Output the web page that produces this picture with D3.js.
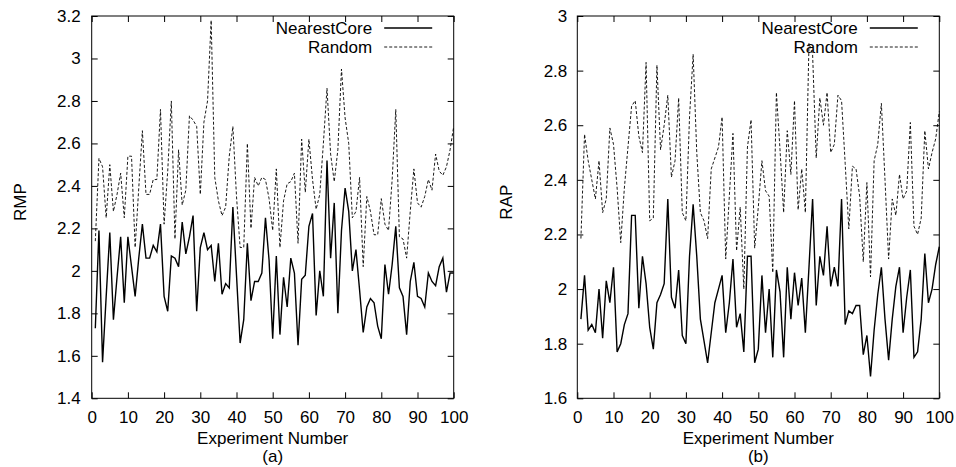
<!DOCTYPE html>
<html><head><meta charset="utf-8">
<script src="https://cdn.jsdelivr.net/npm/d3@7"></script>
<style>
html,body{margin:0;padding:0;background:#fff;}
text{font-family:"Liberation Sans",Arial,Helvetica,sans-serif;font-size:17px;fill:#000;}
</style></head>
<body>
<svg id="chart" width="956" height="467"></svg>
<script>
const experiments = d3.range(1, 101);
const seriesNames = ["NearestCore", "Random"];
const rmpNearestCore = [1.73,2.19,1.57,1.88,2.18,1.77,1.97,2.16,1.85,2.16,2.02,1.88,2.06,2.22,2.06,2.06,2.12,2.09,2.22,1.88,
1.81,2.07,2.06,2.02,2.23,2.08,2.16,2.26,1.81,2.11,2.18,2.10,2.12,1.95,2.13,1.89,1.94,1.92,2.30,1.98,
1.66,1.77,2.13,1.86,1.95,1.95,1.99,2.25,2.05,1.68,2.07,1.70,1.97,1.83,2.06,1.99,1.65,1.96,1.98,2.21,
2.27,1.79,2.00,1.88,2.52,2.06,2.32,1.80,2.19,2.39,2.28,2.00,2.10,1.91,1.71,1.83,1.87,1.85,1.74,1.68,
2.03,1.89,2.03,2.21,1.92,1.88,1.70,1.95,2.04,1.88,1.87,1.83,1.99,1.95,1.93,2.02,2.06,1.90,1.99,1.99];
const rmpRandom = [2.14,2.53,2.49,2.25,2.50,2.28,2.36,2.46,2.25,2.54,2.54,2.11,2.39,2.66,2.36,2.36,2.43,2.43,2.76,2.22,
2.47,2.80,2.15,2.57,2.31,2.38,2.73,2.71,2.68,2.36,2.70,2.80,3.18,2.44,2.33,2.26,2.30,2.54,2.68,2.35,
2.11,2.11,2.60,2.20,2.44,2.40,2.44,2.43,2.34,2.19,2.48,2.11,2.33,2.41,2.42,2.46,2.13,2.62,2.37,2.62,
2.43,2.29,2.36,2.60,2.86,2.55,2.42,2.57,2.95,2.72,2.60,2.25,2.28,2.44,2.02,2.35,2.28,2.17,2.17,2.34,
2.22,2.19,2.43,2.76,2.16,2.15,2.06,2.28,2.48,2.32,2.30,2.35,2.43,2.38,2.55,2.47,2.45,2.49,2.57,2.68];
const rapNearestCore = [1.89,2.05,1.85,1.87,1.84,2.00,1.82,2.03,1.95,2.08,1.77,1.80,1.87,1.91,2.27,2.27,1.93,2.12,2.02,1.86,
1.78,1.95,1.98,2.02,2.33,1.97,1.93,2.07,1.83,1.80,2.12,2.31,2.12,1.89,1.81,1.73,1.84,1.95,2.00,2.05,
1.84,1.95,2.11,1.86,1.91,1.77,2.12,2.12,1.73,1.78,2.05,1.84,2.00,1.75,2.07,1.99,1.75,2.08,1.89,2.06,
1.94,2.04,1.84,2.08,2.33,1.94,2.12,2.05,2.23,2.01,2.08,2.01,2.33,1.87,1.92,1.91,1.94,1.94,1.76,1.83,
1.68,1.85,1.98,2.08,1.89,1.74,1.89,2.01,2.08,1.84,1.97,2.07,1.75,1.77,1.89,2.13,1.95,2.00,2.09,2.155];
const rapRandom = [2.185,2.567,2.47,2.40,2.33,2.47,2.28,2.33,2.59,2.53,2.37,2.17,2.37,2.52,2.67,2.69,2.56,2.50,2.83,2.25,
2.26,2.82,2.51,2.60,2.71,2.41,2.47,2.70,2.28,2.25,2.63,2.86,2.50,2.28,2.25,2.185,2.44,2.48,2.52,2.63,
2.11,2.34,2.57,2.14,2.30,2.00,2.52,2.62,2.15,2.30,2.47,2.36,2.34,2.06,2.72,2.51,2.28,2.58,2.42,2.69,
2.29,2.44,2.28,2.90,2.86,2.48,2.70,2.60,2.72,2.50,2.53,2.71,2.69,2.46,2.22,2.45,2.44,2.34,2.10,2.39,
2.045,2.47,2.53,2.68,2.40,2.11,2.33,2.27,2.42,2.33,2.36,2.61,2.23,2.20,2.26,2.58,2.44,2.50,2.55,2.65];
const xTicks = [0,10,20,30,40,50,60,70,80,90,100];
const rmpTicks = [1.4,1.6,1.8,2,2.2,2.4,2.6,2.8,3,3.2];
const rapTicks = [1.6,1.8,2,2.2,2.4,2.6,2.8,3];

const panels = [
  {left:91.7, right:453.7, top:16, bottom:398.3, yLabel:"RMP", sub:"(a)", ydom:[1.4,3.2], yticks:rmpTicks, pad:11, a:rmpNearestCore, b:rmpRandom},
  {left:577.3, right:939.3, top:16, bottom:398.3, yLabel:"RAP", sub:"(b)", ydom:[1.6,3.0], yticks:rapTicks, pad:10, a:rapNearestCore, b:rapRandom}
];
const svg = d3.select("#chart");
svg.append("rect").attr("width",956).attr("height",467).attr("fill","#fff");
const fmt = d => d3.format("")(+d.toFixed(1));
panels.forEach(p => {
  const x = d3.scaleLinear().domain([0,100]).range([p.left,p.right]);
  const y = d3.scaleLinear().domain(p.ydom).range([p.bottom,p.top]);
  const g = svg.append("g");
  const T = 6;
  const ax = (gen, tr) => {
    const a = g.append("g").attr("transform", tr).call(gen);
    a.select(".domain").remove();
    a.selectAll("line").attr("stroke","#000").attr("stroke-width",1);
    a.selectAll("text").attr("font-size",null).attr("font-family",null);
    return a;
  };
  ax(d3.axisBottom(x).tickValues(xTicks).tickSizeInner(-T).tickSizeOuter(0).tickPadding(13).tickFormat(d3.format("d")), `translate(0,${p.bottom})`);
  ax(d3.axisTop(x).tickValues(xTicks).tickSizeInner(-T).tickSizeOuter(0).tickFormat(""), `translate(0,${p.top})`);
  ax(d3.axisLeft(y).tickValues(p.yticks).tickSizeInner(-T).tickSizeOuter(0).tickPadding(p.pad).tickFormat(fmt), `translate(${p.left},0)`);
  ax(d3.axisRight(y).tickValues(p.yticks).tickSizeInner(-T).tickSizeOuter(0).tickFormat(""), `translate(${p.right},0)`);
  g.append("rect").attr("x",p.left).attr("y",p.top).attr("width",p.right-p.left).attr("height",p.bottom-p.top)
    .attr("fill","none").attr("stroke","#000").attr("stroke-width",1);
  const line = d3.line().x((d,i)=>x(experiments[i])).y(d=>y(d));
  g.append("path").datum(p.b).attr("d",line).attr("fill","none").attr("stroke","#000").attr("stroke-width",0.9).attr("stroke-dasharray","3,2");
  g.append("path").datum(p.a).attr("d",line).attr("fill","none").attr("stroke","#000").attr("stroke-width",1.4);
  const cx = (p.left+p.right)/2;
  g.append("text").attr("x",cx).attr("y",444).attr("text-anchor","middle").text("Experiment Number");
  g.append("text").attr("x",cx).attr("y",462).attr("text-anchor","middle").text(p.sub);
  g.append("text").attr("transform",`translate(${p.left-71.5},${(p.top+p.bottom)/2-5}) rotate(-90)`).attr("text-anchor","middle").attr("dy","0.35em").text(p.yLabel);
  // legend
  const lx = p.right - 21.5;
  [[seriesNames[0], null, 28], [seriesNames[1], "3,2", 47]].forEach(([name, dash, ly]) => {
    g.append("text").attr("x", lx-60).attr("y", ly).attr("dy","0.35em").attr("text-anchor","end").text(name);
    const l = g.append("line").attr("x1", lx-48).attr("x2", lx).attr("y1", ly).attr("y2", ly).attr("stroke","#000")
      .attr("stroke-width", dash ? 0.9 : 1.4);
    if (dash) l.attr("stroke-dasharray", dash);
  });
});
</script>
</body></html>
